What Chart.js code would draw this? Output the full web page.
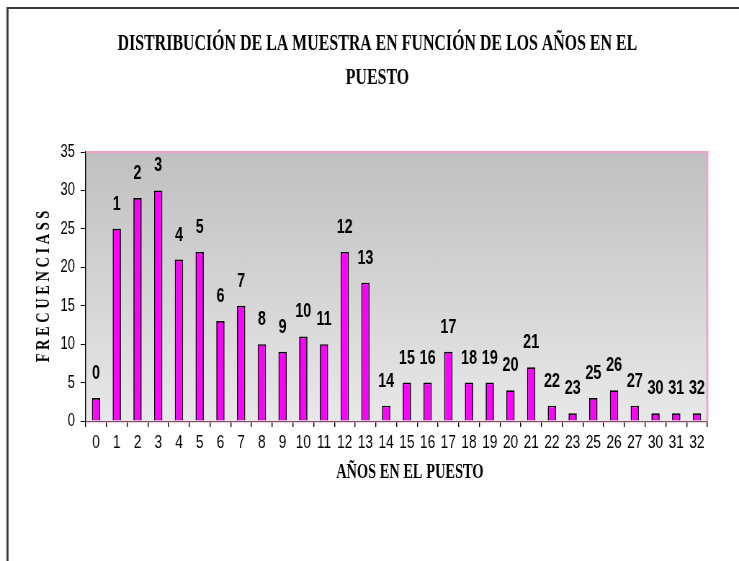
<!DOCTYPE html>
<html><head><meta charset="utf-8">
<script src="https://cdn.jsdelivr.net/npm/chart.js@4.4.1/dist/chart.umd.min.js"></script>
<style>
html,body{margin:0;padding:0;background:#fff;overflow:hidden;}
#wrap{width:739px;height:561px;overflow:hidden;position:relative;}
#c{position:absolute;left:0;top:0;transform:scaleX(0.72027);transform-origin:0 0;}
</style></head><body>
<div id="wrap"><canvas id="c" width="1026" height="561"></canvas></div>
<script>
// ---- data ----
const categories = ['0','1','2','3','4','5','6','7','8','9','10','11','12','13','14','15','16','17','18','19','20','21','22','23','25','26','27','30','31','32'];
const frecuencias = [3,25,29,30,21,22,13,15,10,9,11,10,22,18,2,5,5,9,5,5,4,7,2,1,3,4,2,1,1,1];
const yTickValues = [0,5,10,15,20,25,30,35];
const titleLines = ['DISTRIBUCIÓN DE LA MUESTRA EN FUNCIÓN DE LOS AÑOS EN EL','PUESTO'];
const xTitle = 'AÑOS EN EL PUESTO';
const yTitle = 'F R E C U E N C I A S S';

const K = 0.72027;           // horizontal squeeze of the whole picture
const W = 1026, H = 561;
const SANS = '"Liberation Sans", Arial, sans-serif';
const SERIF = '"Liberation Serif", "Times New Roman", serif';
const PLOT = {left: 119, right: 982, top: 152, bottom: 421};

const decor = {
  id: 'decor',
  beforeDraw(chart) {
    const ctx = chart.ctx, a = chart.chartArea;
    ctx.save();
    ctx.fillStyle = '#fff';
    ctx.fillRect(0, 0, W, H);
    // outer frame (left + top)
    ctx.fillStyle = '#3a3a3a';
    ctx.fillRect(9, 7, 2.8, H);
    ctx.fillRect(9, 7, W, 2);
    // plot gradient
    const g = ctx.createLinearGradient(0, a.top, 0, a.bottom);
    g.addColorStop(0, '#c0c0c0');
    g.addColorStop(1, '#e8e8e8');
    ctx.fillStyle = g;
    ctx.fillRect(a.left, a.top, a.right - a.left, a.bottom - a.top);
    ctx.restore();
  },
  afterDatasetsDraw(chart) {
    const ctx = chart.ctx, a = chart.chartArea;
    ctx.save();
    // pink plot border top + right
    ctx.fillStyle = '#f4a0cc';
    ctx.fillRect(a.left, a.top - 1, a.right - a.left + 1.4, 2);
    ctx.fillRect(a.right - 1.4, a.top - 1, 2.8, a.bottom - a.top + 1);
    ctx.fillRect(a.left, a.bottom + 0.5, a.right - a.left, 1);
    // data labels = category names
    const meta = chart.getDatasetMeta(0);
    ctx.fillStyle = '#000';
    ctx.font = 'bold 20px ' + SANS;
    ctx.textAlign = 'center';
    ctx.textBaseline = 'alphabetic';
    meta.data.forEach((bar, i) => {
      ctx.fillText(categories[i], bar.x, bar.y - 19);
    });
    ctx.restore();
  },
  afterDraw(chart) {
    const ctx = chart.ctx, a = chart.chartArea;
    ctx.fillStyle = '#000';
    ctx.textAlign = 'center';
    ctx.textBaseline = 'middle';
    // chart title (condensed serif bold)
    ctx.save();
    ctx.translate(524, 0);
    ctx.scale(0.92, 1);
    ctx.font = 'bold 24px ' + SERIF;
    ctx.fillText(titleLines[0], 0, 44);
    ctx.fillText(titleLines[1], 0, 78);
    ctx.restore();
    // x axis title
    ctx.save();
    ctx.translate(569, 0);
    ctx.scale(1.0, 1);
    ctx.font = 'bold 20px ' + SERIF;
    ctx.fillText(xTitle, 0, 473);
    ctx.restore();
    // y axis title (rotated, condensed along the text)
    ctx.save();
    ctx.translate(61, (a.top + a.bottom) / 2);
    ctx.scale(1 / K, 1);
    ctx.rotate(-Math.PI / 2);
    ctx.scale(0.72, 1);
    ctx.font = 'bold 20px ' + SERIF;
    ctx.fillText(yTitle, 0, 0);
    ctx.restore();
  }
};

new Chart(document.getElementById('c'), {
  type: 'bar',
  data: {
    labels: categories,
    datasets: [{
      data: frecuencias,
      backgroundColor: '#ff00ff',
      borderColor: '#000',
      borderWidth: 1.7,
      borderSkipped: 'bottom',
      barPercentage: 0.4,
      categoryPercentage: 1
    }]
  },
  options: {
    responsive: false,
    animation: false,
    devicePixelRatio: 1,
    layout: {padding: {top: PLOT.top, right: W - PLOT.right, left: 0, bottom: 0}},
    plugins: {legend: {display: false}, tooltip: {enabled: false}, title: {display: false}},
    scales: {
      x: {
        offset: true,
        grid: {display: true, drawOnChartArea: false, drawTicks: true, tickLength: 6, color: '#000', lineWidth: 1.4, offset: true},
        border: {display: true, color: '#000', width: 1},
        ticks: {color: '#000', font: {family: SANS, size: 19}, padding: 4, maxRotation: 0, autoSkip: false},
        afterFit(s) { s.height = H - PLOT.bottom; }
      },
      y: {
        min: 0, max: 35,
        grid: {display: true, drawOnChartArea: false, drawTicks: true, tickLength: 7, color: '#000', lineWidth: 1},
        border: {display: true, color: '#000', width: 1.4},
        ticks: {color: '#000', font: {family: SANS, size: 18}, padding: 8, stepSize: 5},
        afterBuildTicks(s) { s.ticks = yTickValues.map(v => ({value: v})); },
        afterFit(s) { s.width = PLOT.left; }
      }
    }
  },
  plugins: [decor]
});
</script>
</body></html>
